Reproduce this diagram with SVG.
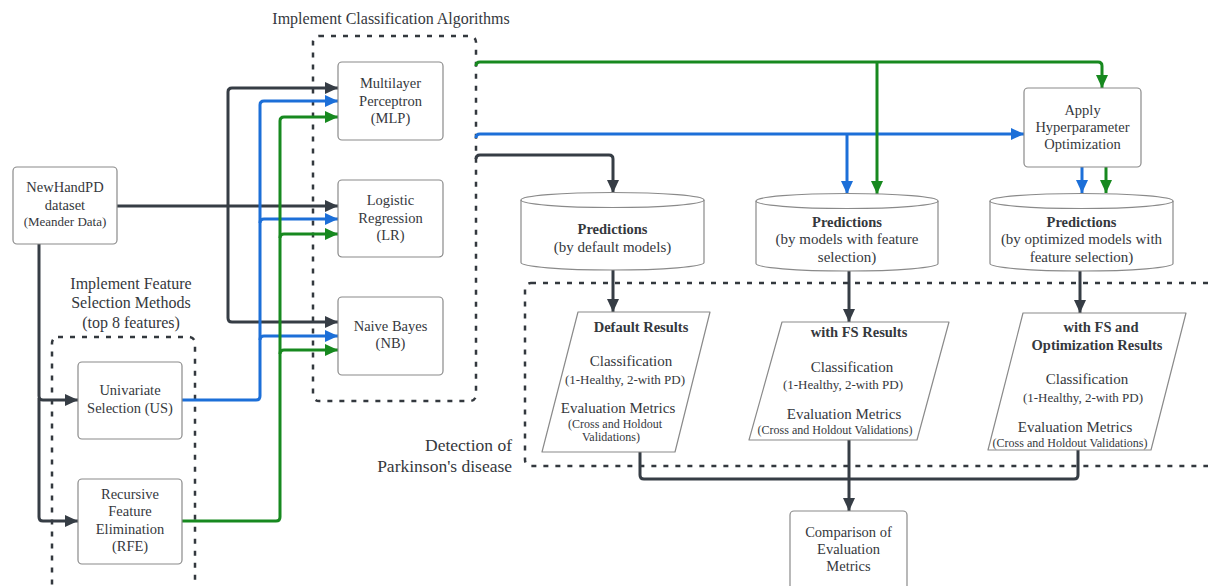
<svg xmlns="http://www.w3.org/2000/svg" width="1208" height="586" viewBox="0 0 1208 586">
<style>
text{font-family:"Liberation Serif","Times New Roman",serif;fill:#35383d;text-anchor:middle}
.n{font-size:14.5px}
.b{font-size:14.5px;font-weight:bold}
.m{font-size:15px}
.s{font-size:13px}
.xs{font-size:12px}
.t{font-size:16px}
.box{fill:#fff;stroke:#8a8a8a;stroke-width:1.2}
.grp{fill:none;stroke:#33383e;stroke-width:2.5;stroke-dasharray:5 7}
.c{fill:none;stroke-width:3;stroke-linejoin:round}
.dk{stroke:#363d45}
.bl{stroke:#1c6fd8}
.gr{stroke:#17891f}
</style>
<defs>
<marker id="ad" markerUnits="userSpaceOnUse" markerWidth="14" markerHeight="12" refX="13" refY="6" orient="auto"><path d="M0,0 L13,6 L0,12 z" fill="#363d45"/></marker>
<marker id="ab" markerUnits="userSpaceOnUse" markerWidth="14" markerHeight="12" refX="13" refY="6" orient="auto"><path d="M0,0 L13,6 L0,12 z" fill="#1c6fd8"/></marker>
<marker id="ag" markerUnits="userSpaceOnUse" markerWidth="14" markerHeight="12" refX="13" refY="6" orient="auto"><path d="M0,0 L13,6 L0,12 z" fill="#17891f"/></marker>
</defs>
<rect width="1208" height="586" fill="#fff"/>

<g id="groups">
<rect class="grp" x="313" y="36" width="163" height="365" rx="6"/>
<rect class="grp" x="52" y="337" width="143" height="270" rx="6"/>
<rect class="grp" x="525" y="283" width="700" height="183" rx="6"/>
<text class="t" x="391" y="24">Implement Classification Algorithms</text>
<text class="t" x="131" y="289">Implement Feature</text>
<text class="t" x="131" y="308">Selection Methods</text>
<text class="t" x="131" y="328">(top 8 features)</text>
<text class="t" x="512" y="451" style="font-size:17.5px;text-anchor:end">Detection of</text>
<text class="t" x="512" y="472" style="font-size:17.5px;text-anchor:end">Parkinson's disease</text>
</g>

<g id="connectors">
<path class="c dk" d="M117,206 H338" marker-end="url(#ad)"/>
<path class="c dk" d="M228,206 V92 Q228,88 232,88 H338" marker-end="url(#ad)"/>
<path class="c dk" d="M228,206 V318 Q228,322 232,322 H338" marker-end="url(#ad)"/>
<path class="c dk" d="M39,244 V396 Q39,400 43,400 H78" marker-end="url(#ad)"/>
<path class="c dk" d="M39,398 V517 Q39,521 43,521 H78" marker-end="url(#ad)"/>
<path class="c dk" d="M476,159 Q476,155 480,155 H609 Q613,155 613,159 V193" marker-end="url(#ad)"/>
<path class="c dk" d="M613,270 V312" marker-end="url(#ad)"/>
<path class="c dk" d="M849,271 V322" marker-end="url(#ad)"/>
<path class="c dk" d="M1080,271 V313" marker-end="url(#ad)"/>
<path class="c dk" d="M640,452 V475 Q640,479 644,479 H1074 Q1078,479 1078,475 V450"/>
<path class="c dk" d="M849,440 V511" marker-end="url(#ad)"/>

<path class="c bl" d="M182,400 H256 Q260,400 260,396 V105 Q260,101 264,101 H338" marker-end="url(#ab)"/>
<path class="c bl" d="M260,223 Q260,219 264,219 H338" marker-end="url(#ab)"/>
<path class="c bl" d="M260,340 Q260,336 264,336 H338" marker-end="url(#ab)"/>
<path class="c bl" d="M476,138 Q476,134 480,134 H1024" marker-end="url(#ab)"/>
<path class="c bl" d="M847,134 V194" marker-end="url(#ab)"/>
<path class="c bl" d="M1082,167 V193" marker-end="url(#ab)"/>

<path class="c gr" d="M182,521 H276 Q280,521 280,517 V121 Q280,117 284,117 H338" marker-end="url(#ag)"/>
<path class="c gr" d="M280,238 Q280,234 284,234 H338" marker-end="url(#ag)"/>
<path class="c gr" d="M280,354 Q280,350 284,350 H338" marker-end="url(#ag)"/>
<path class="c gr" d="M476,66 Q476,62 480,62 H1098 Q1102,62 1102,66 V88" marker-end="url(#ag)"/>
<path class="c gr" d="M877,62 V194" marker-end="url(#ag)"/>
<path class="c gr" d="M1106,167 V193" marker-end="url(#ag)"/>
</g>

<g id="newhandpd">
<rect class="box" x="13" y="167" width="104" height="77" rx="4"/>
<text class="n" x="65" y="192">NewHandPD</text>
<text class="n" x="65" y="210">dataset</text>
<text class="s" x="65" y="226">(Meander Data)</text>
</g>
<g id="mlp">
<rect class="box" x="338" y="62" width="105" height="78" rx="4"/>
<text class="n" x="390.5" y="88">Multilayer</text>
<text class="n" x="390.5" y="106">Perceptron</text>
<text class="n" x="390.5" y="123">(MLP)</text>
</g>
<g id="lr">
<rect class="box" x="338" y="180" width="105" height="77" rx="4"/>
<text class="n" x="390.5" y="205">Logistic</text>
<text class="n" x="390.5" y="223">Regression</text>
<text class="n" x="390.5" y="240">(LR)</text>
</g>
<g id="nb">
<rect class="box" x="338" y="297" width="105" height="78" rx="4"/>
<text class="n" x="390.5" y="331">Naive Bayes</text>
<text class="n" x="390.5" y="348">(NB)</text>
</g>
<g id="us">
<rect class="box" x="78" y="362" width="104" height="77" rx="4"/>
<text class="n" x="130" y="395">Univariate</text>
<text class="n" x="130" y="413">Selection (US)</text>
</g>
<g id="rfe">
<rect class="box" x="78" y="479" width="104" height="85" rx="4"/>
<text class="n" x="130" y="499">Recursive</text>
<text class="n" x="130" y="516">Feature</text>
<text class="n" x="130" y="534">Elimination</text>
<text class="n" x="130" y="551">(RFE)</text>
</g>
<g id="apply">
<rect class="box" x="1024" y="88" width="117" height="79" rx="4"/>
<text class="n" x="1082.5" y="115">Apply</text>
<text class="n" x="1082.5" y="132">Hyperparameter</text>
<text class="n" x="1082.5" y="149">Optimization</text>
</g>
<g id="pred-default">
<path class="box" d="M521,200 A91.5,7.5 0 0 1 704,200 V262.5 A91.5,7.5 0 0 1 521,262.5 Z"/>
<path class="box" style="fill:none" d="M521,200 A91.5,7.5 0 0 0 704,200"/>
<text class="b" x="612.5" y="234">Predictions</text>
<text class="m" x="612.5" y="252">(by default models)</text>
</g>
<g id="pred-fs">
<path class="box" d="M756,201 A91,7.5 0 0 1 938,201 V263.5 A91,7.5 0 0 1 756,263.5 Z"/>
<path class="box" style="fill:none" d="M756,201 A91,7.5 0 0 0 938,201"/>
<text class="b" x="847" y="227">Predictions</text>
<text class="m" x="847" y="244">(by models with feature</text>
<text class="m" x="847" y="262">selection)</text>
</g>
<g id="pred-opt">
<path class="box" d="M990,201 A91.5,7.5 0 0 1 1173,201 V263.5 A91.5,7.5 0 0 1 990,263.5 Z"/>
<path class="box" style="fill:none" d="M990,201 A91.5,7.5 0 0 0 1173,201"/>
<text class="b" x="1081.5" y="227">Predictions</text>
<text class="m" x="1081.5" y="244">(by optimized models with</text>
<text class="m" x="1081.5" y="262">feature selection)</text>
</g>
<g id="res-default">
<path class="box" stroke-linejoin="round" d="M578,312 H710 L675,452 H542 Z"/>
<text class="b" x="641" y="332">Default Results</text>
<text class="m" x="631" y="366">Classification</text>
<text class="s" x="625" y="384">(1-Healthy, 2-with PD)</text>
<text class="m" x="618" y="413">Evaluation Metrics</text>
<text class="xs" x="615" y="428">(Cross and Holdout</text>
<text class="xs" x="611" y="441">Validations)</text>
</g>
<g id="res-fs">
<path class="box" stroke-linejoin="round" d="M782,322 H949 L917,440 H749 Z"/>
<text class="b" x="859" y="337">with FS Results</text>
<text class="m" x="852" y="372">Classification</text>
<text class="s" x="843" y="389">(1-Healthy, 2-with PD)</text>
<text class="m" x="844" y="419">Evaluation Metrics</text>
<text class="xs" x="835" y="434">(Cross and Holdout Validations)</text>
</g>
<g id="res-opt">
<path class="box" stroke-linejoin="round" d="M1023,313 H1186 L1151,450 H988 Z"/>
<text class="b" x="1101" y="332">with FS and</text>
<text class="b" x="1097" y="350">Optimization Results</text>
<text class="m" x="1087" y="384">Classification</text>
<text class="s" x="1083" y="402">(1-Healthy, 2-with PD)</text>
<text class="m" x="1075" y="432">Evaluation Metrics</text>
<text class="xs" x="1070" y="447">(Cross and Holdout Validations)</text>
</g>
<g id="comparison">
<rect class="box" x="790" y="511" width="117" height="90" rx="4"/>
<text class="n" x="848.5" y="537">Comparison of</text>
<text class="n" x="848.5" y="554">Evaluation</text>
<text class="n" x="848.5" y="571">Metrics</text>
</g>
</svg>
